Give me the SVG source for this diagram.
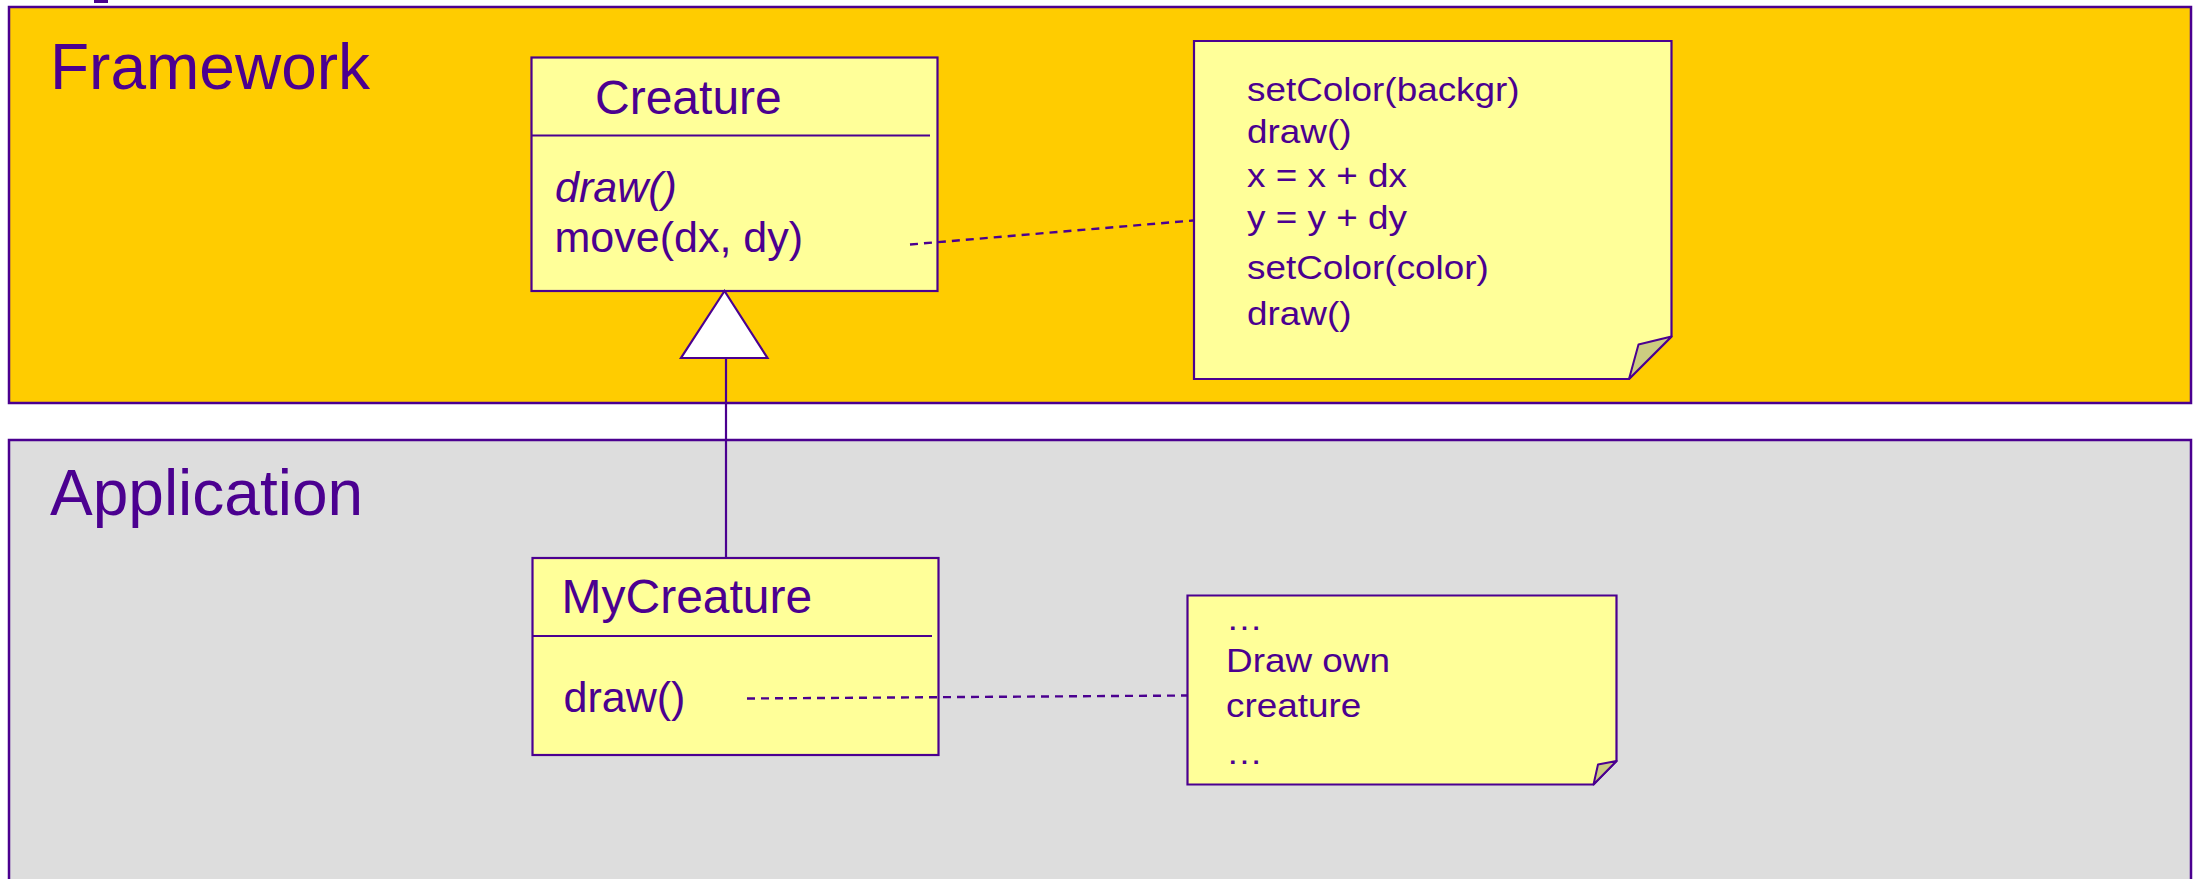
<svg xmlns="http://www.w3.org/2000/svg" width="2202" height="879" viewBox="0 0 2202 879">
  <style>
    .ink { fill: #4B0090; }
    text { font-family: "Liberation Sans", Arial, sans-serif; fill: #4B0090; }
    .layer-title { font-size: 64px; }
    .cls-name { font-size: 48px; }
    .member { font-size: 43px; }
    .italic { font-style: italic; }
    .note-text { font-size: 34px; }
    .panel { stroke: #4B0090; stroke-width: 2.5; }
    .box { fill: #FFFF99; stroke: #4B0090; stroke-width: 2.2; }
    .divider { stroke: #4B0090; stroke-width: 2; }
    .fold { fill: #CCCC80; stroke: #4B0090; stroke-width: 2; stroke-linejoin: round; }
    .link { fill: none; stroke: #4B0090; stroke-width: 2.2; }
    .anchor { fill: none; stroke: #4B0090; stroke-width: 2.4; stroke-dasharray: 8 6; }
    .gen-head { fill: #FFFFFF; stroke: #4B0090; stroke-width: 2.2; stroke-linejoin: miter; }
  </style>

  <rect x="0" y="0" width="2202" height="879" fill="#FFFFFF"/>
  <!-- stub of a heading that sits above the visible area -->
  <rect x="94" y="0" width="14" height="3" class="ink"/>

  <!-- layers -->
  <g id="framework-layer">
    <rect class="panel" x="9" y="7" width="2182" height="396" fill="#FFCC00"/>
    <text class="layer-title" x="50" y="89">Framework</text>
  </g>
  <g id="application-layer">
    <rect class="panel" x="9" y="440" width="2182" height="460" fill="#DDDDDD"/>
    <text class="layer-title" x="50" y="515">Application</text>
  </g>

  <!-- abstract framework class -->
  <g id="creature">
    <rect class="box" x="531.5" y="57.5" width="406" height="233.5"/>
    <line class="divider" x1="531.5" y1="135.5" x2="930" y2="135.5"/>
    <text class="cls-name" x="595" y="114">Creature</text>
    <text class="member italic" x="555" y="201.5">draw()</text>
    <text class="member" x="554.5" y="251.5">move(dx, dy)</text>
  </g>

  <!-- application subclass -->
  <g id="my-creature">
    <rect class="box" x="532.5" y="558" width="406" height="197"/>
    <line class="divider" x1="532.5" y1="636" x2="932" y2="636"/>
    <text class="cls-name" x="561.5" y="613">MyCreature</text>
    <text class="member" x="563.5" y="711.5">draw()</text>
  </g>

  <!-- note: body of move() -->
  <g id="move-note">
    <path class="box" d="M1194,41 H1671.5 V336.5 L1629,379 H1194 Z"/>
    <path class="fold" d="M1671.5,336.5 L1638.5,344.5 L1629,379 Z"/>
    <g transform="translate(1247 0) scale(1.085 1)">
      <text class="note-text" x="0" y="101">setColor(backgr)</text>
      <text class="note-text" x="0" y="143.5">draw()</text>
      <text class="note-text" x="0" y="187.5">x = x + dx</text>
      <text class="note-text" x="0" y="229.5">y = y + dy</text>
      <text class="note-text" x="0" y="279">setColor(color)</text>
      <text class="note-text" x="0" y="325">draw()</text>
    </g>
  </g>

  <!-- note: body of draw() -->
  <g id="draw-note">
    <path class="box" d="M1187.5,595.5 H1616.5 V761 L1593.5,784.5 H1187.5 Z"/>
    <path class="fold" d="M1616.5,761 L1598,764.5 L1593.5,784.5 Z"/>
    <g transform="translate(1226 0) scale(1.085 1)">
      <text class="note-text" x="0" y="630">…</text>
      <text class="note-text" x="0" y="672.5">Draw own</text>
      <text class="note-text" x="0" y="717">creature</text>
      <text class="note-text" x="0" y="764">…</text>
    </g>
  </g>

  <!-- connectors, drawn over the boxes they start in -->
  <g id="connectors">
    <!-- generalization MyCreature -> Creature -->
    <line class="link" x1="726" y1="358" x2="726" y2="558"/>
    <polygon class="gen-head" points="724.5,291 681,358 767.5,358"/>
    <!-- note anchors -->
    <line class="anchor" x1="910" y1="244.5" x2="1193" y2="220.5"/>
    <line class="anchor" x1="747" y1="698.5" x2="1187" y2="695.5"/>
  </g>
</svg>
